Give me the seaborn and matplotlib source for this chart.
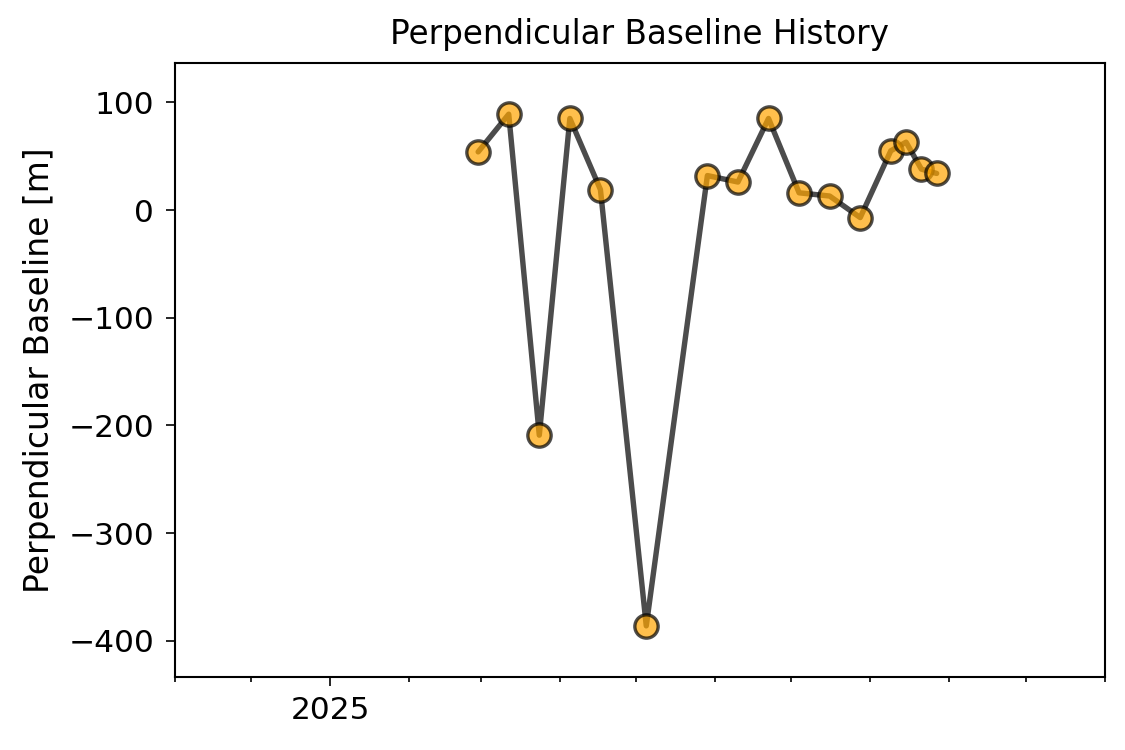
import pandas as pd
import numpy as np
import matplotlib
matplotlib.use('Agg')
import matplotlib.pyplot as plt
import matplotlib.dates as mdates
import seaborn as sns

# ── DATA ─────────────────────────────────────────────────────
dates = ["2025-02-28", "2025-03-12", "2025-03-24", "2025-04-05", "2025-04-17",
         "2025-05-05", "2025-05-29", "2025-06-10", "2025-06-22", "2025-07-04",
         "2025-07-16", "2025-07-28", "2025-08-09", "2025-08-15", "2025-08-21",
         "2025-08-27"]
bperp = [54, 89, -209, 85, 19, -386, 32, 26, 85, 16, 13, -7, 55, 63, 38, 34]

df = pd.DataFrame({"date": pd.to_datetime(dates), "bperp": bperp})

sns.set_style("ticks", rc={"text.color": "black", "axes.labelcolor": "black",
                           "xtick.color": "black", "ytick.color": "black",
                           "axes.edgecolor": "black"})
plt.rcParams['font.family'] = ['DejaVu Sans']

fig, ax = plt.subplots(figsize=(7.5, 5), dpi=150)
fig.subplots_adjust(left=0.1556, right=0.982, top=0.916, bottom=0.0973)

sns.lineplot(data=df, x="date", y="bperp", color="black", alpha=0.7,
             linewidth=2.6, ax=ax)
sns.scatterplot(data=df, x="date", y="bperp", color="orange", alpha=0.7,
                edgecolor="black", linewidth=1.6, s=125, ax=ax, zorder=3)

ax.set_xlim(pd.Timestamp("2024-11-01"), pd.Timestamp("2025-11-01"))
ax.margins(y=0.1)
ax.xaxis.set_major_locator(mdates.YearLocator())
ax.xaxis.set_major_formatter(mdates.DateFormatter("%Y"))
ax.xaxis.set_minor_locator(mdates.MonthLocator())

ax.set_title("Perpendicular Baseline History", fontsize=15.7, color="black", pad=9)
ax.set_xlabel("")
ax.set_ylabel("Perpendicular Baseline [m]", fontsize=15.8, labelpad=6)
ax.tick_params(axis="both", which="major", labelsize=15, length=4.5, width=0.8)
ax.tick_params(axis="y", which="major", pad=5.5)
ax.tick_params(axis="x", which="major", pad=4.5)
ax.tick_params(axis="x", which="minor", length=2.5, width=0.8)
for sp in ax.spines.values():
    sp.set_visible(True)
    sp.set_linewidth(1.0)

plt.savefig("out.png", dpi=150)
plt.close()
